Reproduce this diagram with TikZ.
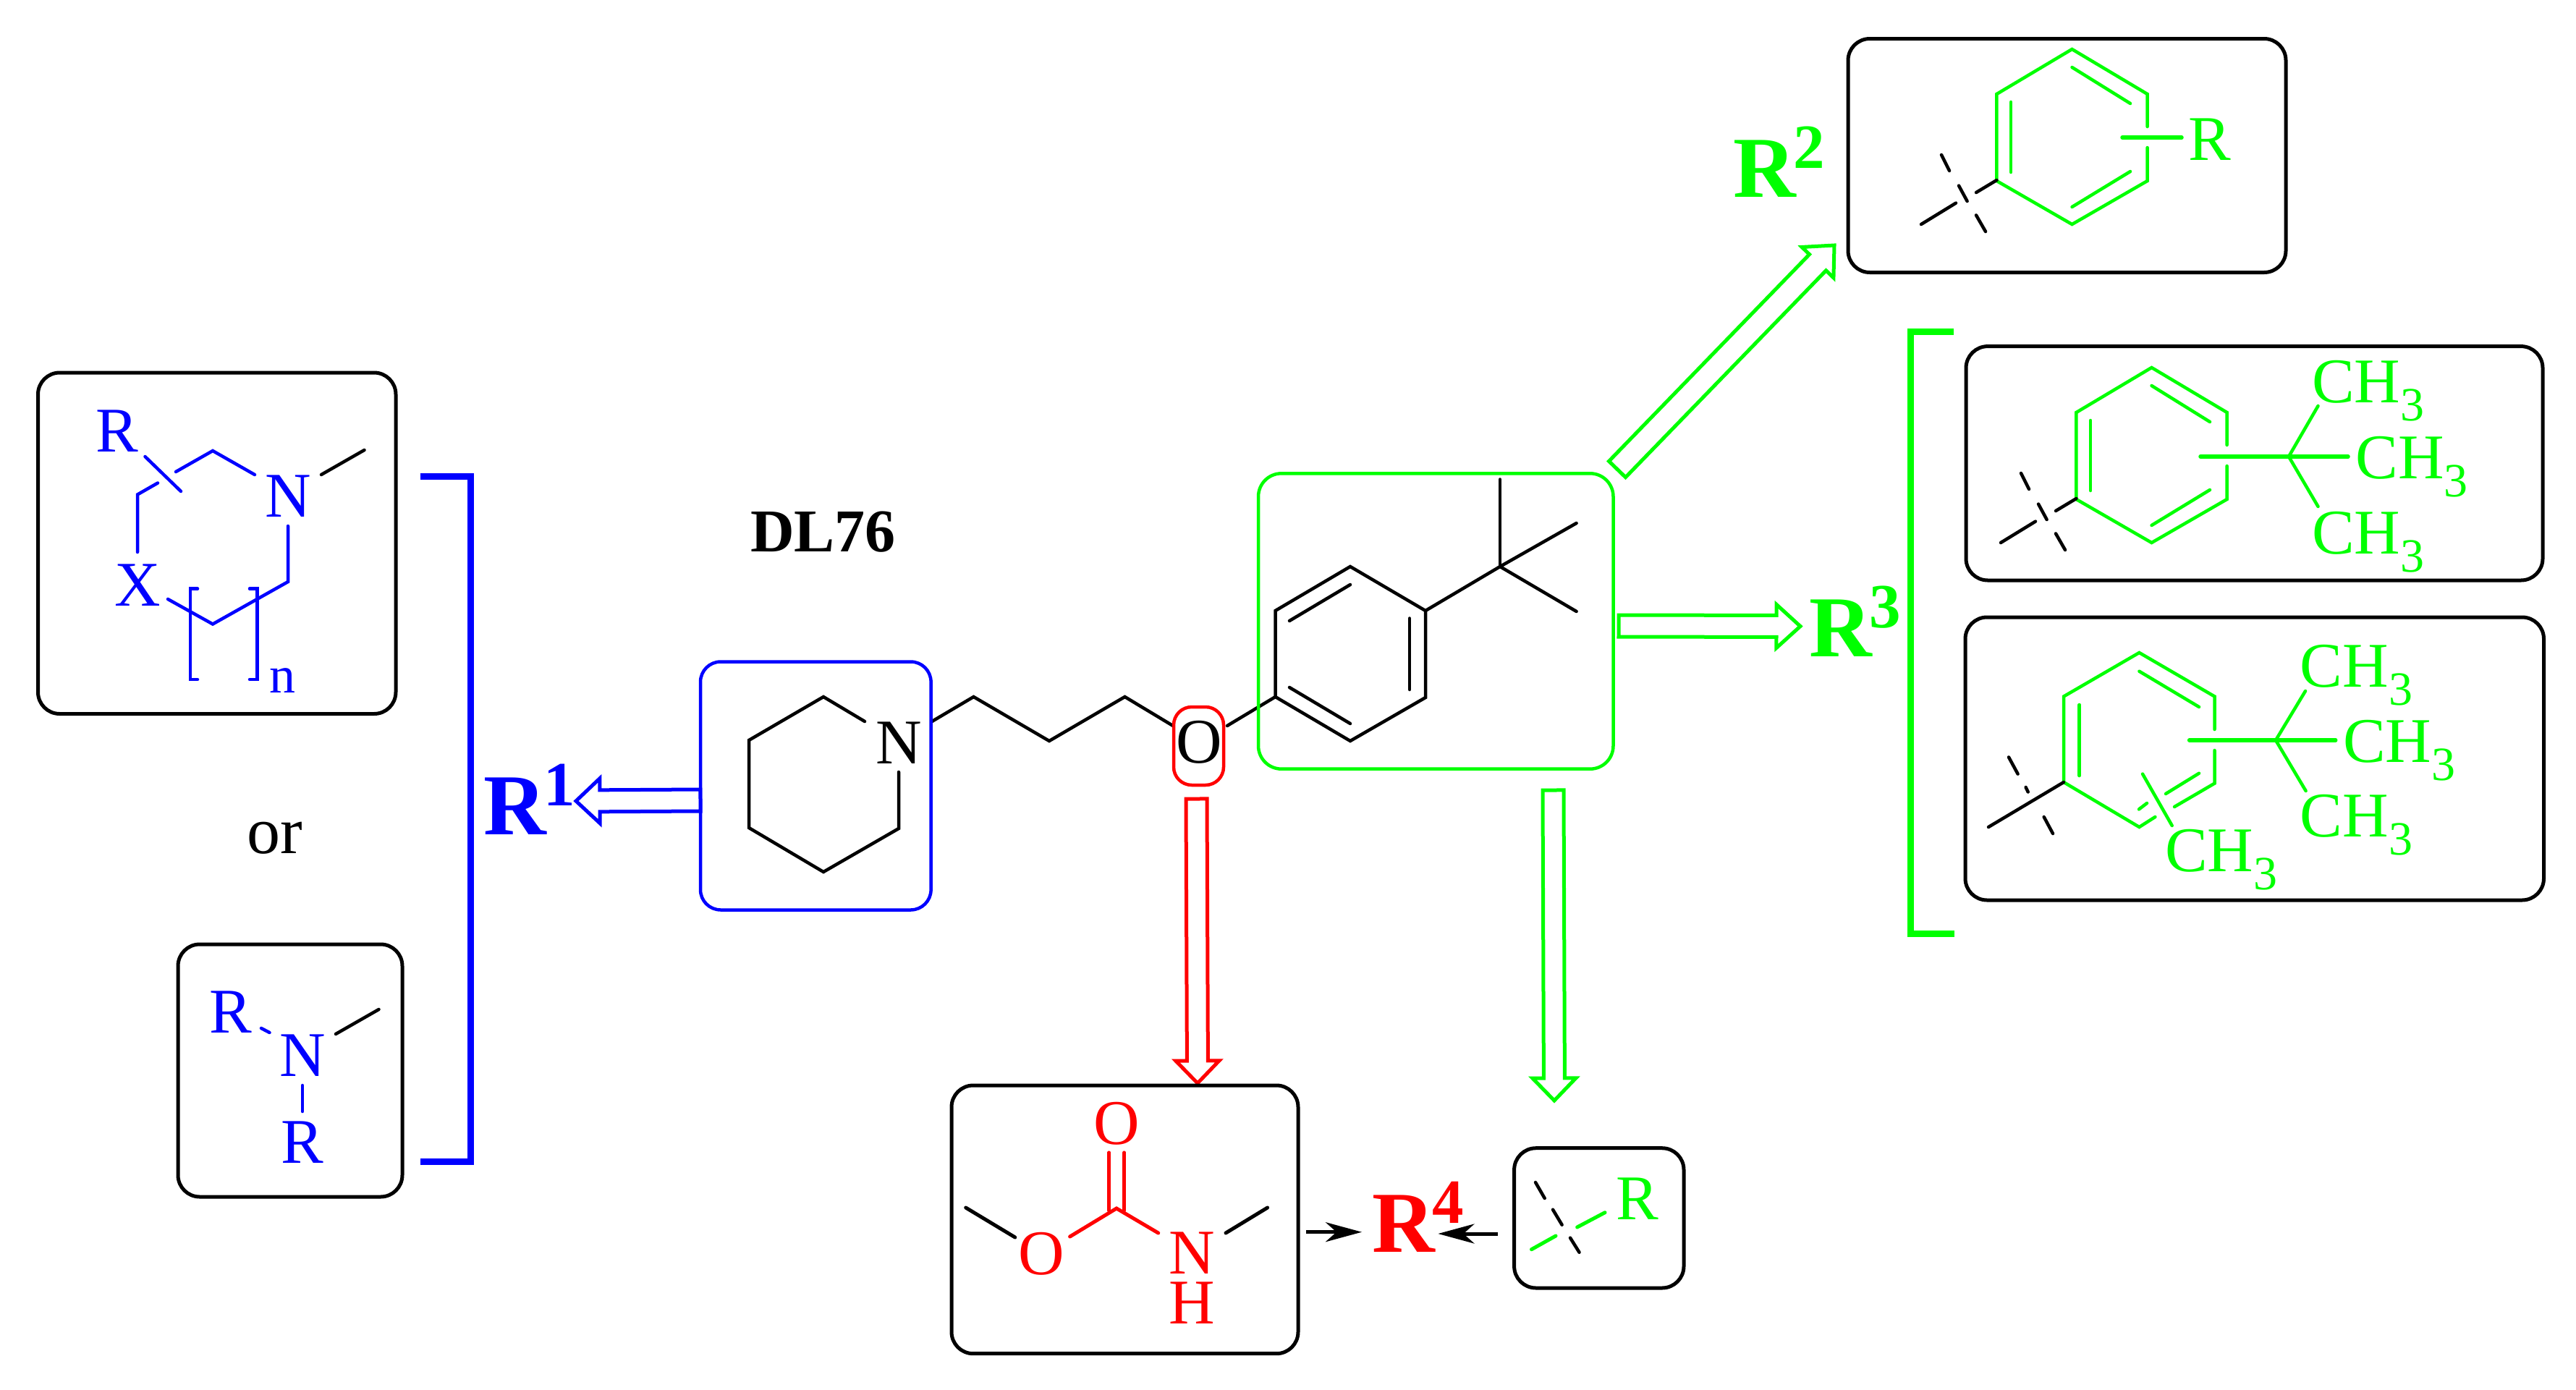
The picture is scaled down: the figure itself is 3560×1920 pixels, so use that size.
\documentclass[tikz,border=0pt]{standalone}
\usepackage{fontspec}
\setmainfont{Liberation Serif}
\usetikzlibrary{calc,arrows.meta}
\definecolor{cblue}{RGB}{0,0,255}
\definecolor{cgreen}{RGB}{0,255,0}
\definecolor{cred}{RGB}{255,0,0}
\newcommand\atomfont{\fontsize{88}{88}\selectfont}
\newcommand\rlab[1]{\fontsize{120}{120}\selectfont\bfseries R\kern-3pt\raisebox{40pt}{\fontsize{87}{87}\selectfont #1}}
\newcommand\chthree{\atomfont CH\raisebox{-25pt}{\fontsize{66}{66}\selectfont 3}}
\tikzset{
  bond/.style={line width=4.5pt,line cap=round,line join=miter},
  frame/.style={draw=black,line width=5pt,rounded corners=30pt,inner sep=0pt,fill=none},
  hilite/.style={line width=4.5pt,rounded corners=#1,inner sep=0pt,fill=none},
  atom/.style={inner sep=0pt,font=\atomfont},
  chlab/.style={inner sep=0pt,anchor=base west},
  rlabel/.style={inner sep=0pt,anchor=base west},
  hollow/.style={line width=5pt,line join=miter,fill=white},
  thickbracket/.style={line width=9pt,line join=miter},
  smallarrow/.style={line width=5pt,-{Stealth[length=50pt,width=27pt,inset=15pt]}}
}
% colour, start, tip, half shaft, half head, head length
\newcommand\hollowarrow[6]{%
  \coordinate (hB) at ($(#3)!#6pt!(#2)$);
  \draw[hollow,draw=#1]
    ($(#2)!#4pt!90:(#3)$) -- ($(hB)!#4pt!-90:(#2)$) -- ($(hB)!#5pt!-90:(#2)$) -- (#3)
    -- ($(hB)!#5pt!90:(#2)$) -- ($(hB)!#4pt!90:(#2)$) -- ($(#2)!#4pt!-90:(#3)$) -- cycle;
}
% dashed cut marks and black bond of the attachment point, then the ring
\newcommand\tolylring{%
  \draw[bond,cgreen] (2759.4,250) -- (2759.4,130) -- (2863.5,68) -- (2967.6,130) -- (2967.6,175);
  \draw[bond,cgreen] (2967.6,204) -- (2967.6,250) -- (2863.5,310) -- (2759.4,250);
  \draw[bond,cgreen] (2779,141) -- (2779,238);
  \draw[bond,cgreen] (2863.5,93) -- (2944,143);
  \draw[bond,cgreen] (2944,237) -- (2863.5,286);
  \draw[bond] (2759.4,249) -- (2731,266);
  \draw[bond] (2703,280.6) -- (2655,310);
  \draw[bond] (2683,214) -- (2694,236);
  \draw[bond] (2707,256.6) -- (2718.6,278);
  \draw[bond] (2731,297.4) -- (2744,320);
}
\begin{document}
\begin{tikzpicture}[x=1pt,y=-1pt]
\useasboundingbox (0,0) rectangle (3560,1920);
\fill[white] (0,0) rectangle (3560,1920);

% hollow arrows
\coordinate (aBlueS) at (968,1106);
\coordinate (aBlueT) at (796,1107);
\hollowarrow{cblue}{aBlueS}{aBlueT}{15}{31}{33}
\coordinate (aRedS) at (1653.5,1104);
\coordinate (aRedT) at (1655,1497);
\hollowarrow{cred}{aRedS}{aRedT}{14.5}{30}{31}
\coordinate (aGrDS) at (2146.5,1092);
\coordinate (aGrDT) at (2148,1521);
\hollowarrow{cgreen}{aGrDS}{aGrDT}{14.5}{30}{31}
\coordinate (aGrRS) at (2237,865);
\coordinate (aGrRT) at (2488,865.5);
\hollowarrow{cgreen}{aGrRS}{aGrRT}{15}{30}{33}
\coordinate (aGrUS) at (2235,648.5);
\coordinate (aGrUT) at (2535,339);
\hollowarrow{cgreen}{aGrUS}{aGrUT}{16}{30.5}{33}

% R1 options
\node[frame,minimum width=494.5pt,minimum height=471.5pt] (boxA) at (299.75,750.75) {};
\node[atom,cblue] (aR) at (162,596) {R};
\node[atom,cblue] (aN) at (398,686) {N};
\node[atom,cblue] (aX) at (190,809) {X};
\node[inner sep=0pt,anchor=base,cblue,font=\fontsize{72}{72}\selectfont] (an) at (390,957) {n};
\draw[bond,cblue] (200.5,631) -- (250,679);
\draw[bond,cblue] (243,652) -- (294,623) -- (352,656);
\draw[bond,cblue] (398,727) -- (398,804) -- (294,862.5) -- (232,828);
\draw[bond,cblue] (218,667.5) -- (190,683.5) -- (190,763);
\draw[bond,cblue] (273,813.6) -- (263,813.6) -- (263,939) -- (273,939);
\draw[bond,cblue] (345,813.6) -- (355.6,813.6) -- (355.6,939) -- (345,939);
\draw[bond] (444,656) -- (503.5,622);

\node[inner sep=0pt,anchor=base,font=\fontsize{92}{92}\selectfont] (orlab) at (380,1179) {or};

\node[frame,minimum width=310pt,minimum height=349pt] (boxB) at (401,1479.5) {};
\node[atom,cblue] (bR1) at (319,1399) {R};
\node[atom,cblue] (bN) at (418,1459) {N};
\node[atom,cblue] (bR2) at (418,1579) {R};
\draw[bond,cblue] (361,1421) -- (372.5,1427);
\draw[bond,cblue] (418,1500) -- (418,1536);
\draw[bond] (464,1429) -- (523.5,1395);

\draw[thickbracket,cblue] (580.6,658) -- (650.5,658) -- (650.5,1605.5) -- (580.6,1605.5);
\node[rlabel,cblue] (labR1) at (668,1153) {\rlab{1}};

% DL76
\node[inner sep=0pt,anchor=base west,font=\fontsize{84}{84}\selectfont\bfseries] (dl) at (1037,762) {DL76};

% main molecule
\node[atom] (mN) at (1242,1027) {N};
\node[atom] (mO) at (1657,1026) {O};
\draw[bond] (1195,997) -- (1138,963) -- (1035,1023) -- (1035,1144) -- (1138,1205) -- (1242,1145) -- (1242,1067);
\draw[bond] (1288,997) -- (1345.5,963) -- (1450,1024) -- (1554.5,963) -- (1621,1003);
\draw[bond] (1696,1003) -- (1762.5,963);
\draw[bond] (1762.5,963) -- (1762.5,844) -- (1866,783) -- (1970,844) -- (1970,964) -- (1866,1024) -- cycle;
\draw[bond] (1782,858) -- (1866,808);
\draw[bond] (1948,854.5) -- (1948,953);
\draw[bond] (1782,950) -- (1866,1000);
\draw[bond] (1970,844) -- (2073,783);
\draw[bond] (2073,662.5) -- (2073,783);
\draw[bond] (2073,783) -- (2178.6,723);
\draw[bond] (2073,783) -- (2178.6,845);
\node[hilite=28pt,draw=cblue,minimum width=318.6pt,minimum height=343pt] (boxPip) at (1127.3,1086) {};
\node[hilite=25pt,draw=cred,minimum width=69pt,minimum height=108pt] (boxO) at (1656.5,1031) {};
\node[hilite=32pt,draw=cgreen,minimum width=490.5pt,minimum height=408.4pt] (boxAr) at (1984.25,858.5) {};

% R2
\node[frame,minimum width=605pt,minimum height=323pt] (boxC) at (2856.5,215) {};
\tolylring
\node[atom,cgreen] (cR) at (3054,193) {R};
\draw[bond,cgreen,line width=5.5pt] (2933,190) -- (3015,190);
\node[rlabel,cgreen] (labR2) at (2395,272) {\rlab{2}};

% R3
\draw[thickbracket,cgreen] (2700,458) -- (2640,458) -- (2640,1290) -- (2701,1290);
\node[rlabel,cgreen] (labR3) at (2500,907) {\rlab{3}};

\node[frame,minimum width=797pt,minimum height=323.4pt] (boxD) at (3115.5,640.3) {};
\begin{scope}[shift={(110pt,-440pt)}]
\tolylring
\end{scope}
\draw[bond,cgreen,line width=5.5pt] (3041,631) -- (3245,631);
\draw[bond,cgreen] (3163,631) -- (3203.5,561);
\draw[bond,cgreen] (3163,631) -- (3203.5,700);
\node[chlab,cgreen] (dC1) at (3195,556) {\chthree};
\node[chlab,cgreen] (dC2) at (3255.5,661.7) {\chthree};
\node[chlab,cgreen] (dC3) at (3195,765) {\chthree};

\node[frame,minimum width=799.5pt,minimum height=391pt] (boxE) at (3115.75,1048.5) {};
\draw[bond,cgreen] (2852,1081) -- (2852,962.5) -- (2956.4,902) -- (3060.5,962.5) -- (3060.5,1008);
\draw[bond,cgreen] (3060.5,1037) -- (3060.5,1082.6) -- (3005,1115);
\draw[bond,cgreen] (2978.4,1129) -- (2956.4,1143) -- (2852,1081);
\draw[bond,cgreen] (2873.7,974) -- (2873.7,1072);
\draw[bond,cgreen] (2956.4,927.7) -- (3039,977);
\draw[bond,cgreen] (3039,1068.7) -- (2993,1097);
\draw[bond,cgreen] (2967,1110) -- (2956,1118.4);
\draw[bond,cgreen] (2961,1069.6) -- (3001.7,1141);
\draw[bond,cgreen,line width=5.5pt] (3025.6,1023) -- (3227.7,1023);
\draw[bond,cgreen] (3145,1023) -- (3186,955);
\draw[bond,cgreen] (3145,1023) -- (3186.6,1093);
\draw[bond] (2852,1081) -- (2748,1143);
\draw[bond] (2776,1046.4) -- (2788.6,1069.6);
\draw[bond] (2799.6,1088) -- (2802.7,1094.5);
\draw[bond] (2824.7,1129) -- (2837,1152);
\node[chlab,cgreen] (eC1) at (3178.7,949.6) {\chthree};
\node[chlab,cgreen] (eC2) at (3238,1053.7) {\chthree};
\node[chlab,cgreen] (eC3) at (3178.7,1156.6) {\chthree};
\node[chlab,cgreen] (eC4) at (2992,1204) {\chthree};

% R4
\node[frame,minimum width=479pt,minimum height=370.7pt] (boxF) at (1554.5,1685.35) {};
\node[atom,cred] (fO1) at (1543,1553) {O};
\node[atom,cred] (fO2) at (1439,1733) {O};
\node[atom,cred] (fN) at (1647,1732) {N};
\node[atom,cred] (fH) at (1647,1801) {H};
\draw[bond,cred] (1532.6,1592.7) -- (1532.6,1673);
\draw[bond,cred] (1553.7,1592.7) -- (1553.7,1673);
\draw[bond,cred,line width=5pt] (1478.6,1709) -- (1543,1670) -- (1600.7,1704);
\draw[bond,line width=5pt] (1334.7,1669) -- (1402.8,1710);
\draw[bond,line width=5pt] (1694,1704) -- (1751.6,1669);
\node[rlabel,cred] (labR4) at (1896,1730) {\rlab{4}};
\node[frame,minimum width=234.4pt,minimum height=193.3pt] (boxG) at (2209.8,1683.35) {};
\node[atom,cgreen] (gR) at (2262.5,1657) {R};
\draw[bond,cgreen,line width=5pt] (2218,1675.7) -- (2179.6,1696);
\draw[bond,cgreen,line width=5pt] (2150,1708) -- (2116.5,1726.7);
\draw[bond] (2122,1634) -- (2134.7,1656);
\draw[bond] (2146,1671.7) -- (2158.6,1692.7);
\draw[bond] (2170,1710.7) -- (2182.5,1730.7);
\coordinate (sa1s) at (1805,1702.7);
\coordinate (sa1t) at (1882,1702.7);
\coordinate (sa2s) at (2069.5,1705);
\coordinate (sa2t) at (1987.4,1705);
\draw[smallarrow] (sa1s) -- (sa1t);
\draw[smallarrow] (sa2s) -- (sa2t);
\end{tikzpicture}
\end{document}
